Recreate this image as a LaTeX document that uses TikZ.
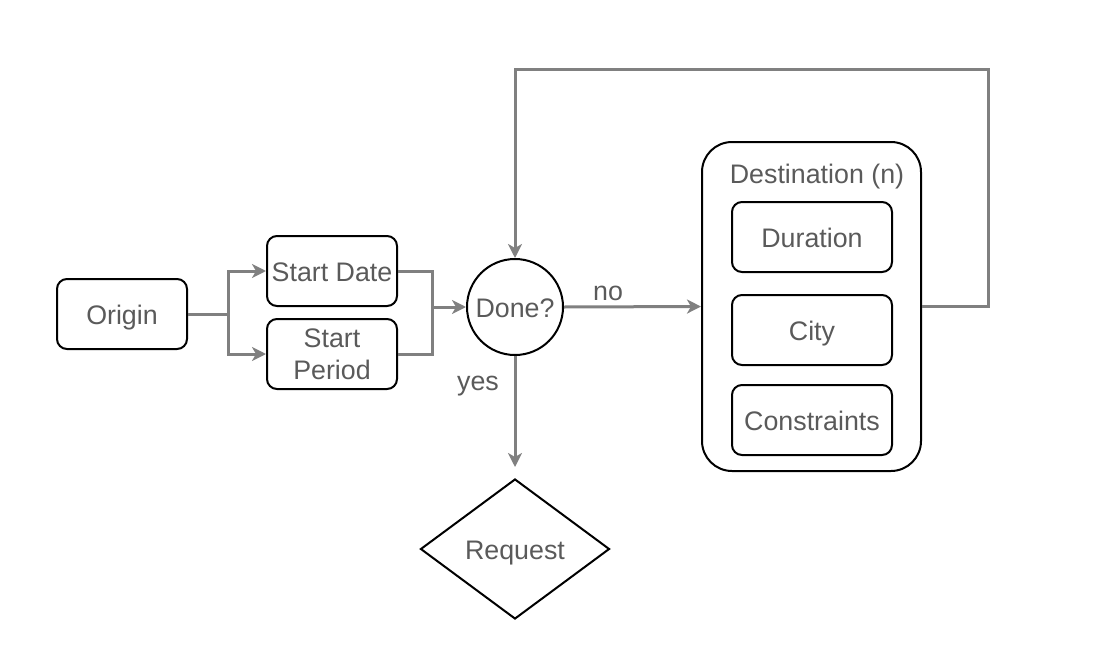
\documentclass[tikz,border=0pt]{standalone}
\usepackage{fontspec}
\setmainfont{Liberation Sans}
\usetikzlibrary{shapes.geometric,arrows.meta}
\definecolor{linegray}{HTML}{808080}
\definecolor{textgray}{HTML}{5A5A5A}
\tikzset{
  txt/.style={text=textgray, font=\fontsize{13.4pt}{16pt}\selectfont},
  oneline/.style={text height=12pt, text depth=2pt},
  boxbase/.style={txt, draw=black, line width=1pt, rounded corners=5pt, minimum width=65pt, minimum height=35pt, align=center, inner sep=1pt},
  box/.style={boxbase, oneline},
  outer/.style={draw=black, line width=1pt, rounded corners=15pt, minimum width=109.5pt, minimum height=164.5pt},
  decision/.style={txt, oneline, draw=black, line width=1pt, circle, minimum size=48pt, inner sep=0pt},
  goal/.style={txt, oneline, draw=black, line width=1pt, diamond, aspect=1.35, minimum width=94.5pt, minimum height=70pt, inner sep=0pt},
  link/.style={draw=linegray, line width=1.5pt},
  flow/.style={link, -{Stealth[length=7pt,width=7pt,inset=2pt]}},
  lbl/.style={txt, oneline, inner sep=0pt}
}
\begin{document}
\begin{tikzpicture}[x=0.5pt,y=-0.5pt]
\useasboundingbox (0,0) rectangle (1119,653);
% nodes
\node[box] (origin) at (122,314) {Origin};
\node[box] (sdate) at (332,271) {Start Date};
\node[boxbase] (speriod) at (332,354) {Start\\Period};
\node[decision] (done) at (515,307) {Done?};
\node[goal] (request) at (515,549) {Request};
\node[outer] (dest) at (811.5,306.5) {};
\node[lbl] (desttitle) at (817,173) {Destination (n)};
\node[box, minimum width=80pt] (duration) at (812,237) {Duration};
\node[box, minimum width=80pt] (city) at (812,330) {City};
\node[box, minimum width=80pt] (constr) at (812,420) {Constraints};
\node[lbl] (nolbl) at (608,290) {no};
\node[lbl] (yeslbl) at (478,380) {yes};
\coordinate (merge) at (432,307);
\coordinate (loop) at (988,69);
% connectors
\draw[flow] (origin.east) -- ++(40,0) |- (sdate.west);
\draw[flow] (origin.east) -- ++(40,0) |- (speriod.west);
\draw[link] (sdate.east) -| (merge);
\draw[link] (speriod.east) -| (merge);
\draw[flow] (merge) -- (done.west);
\draw[flow] (done.east) -- (dest.west);
\draw[flow] (dest.east) -| (loop) -| (done.north);
\draw[flow, shorten >=5.5pt] (done.south) -- (request.north);
\end{tikzpicture}
\end{document}
